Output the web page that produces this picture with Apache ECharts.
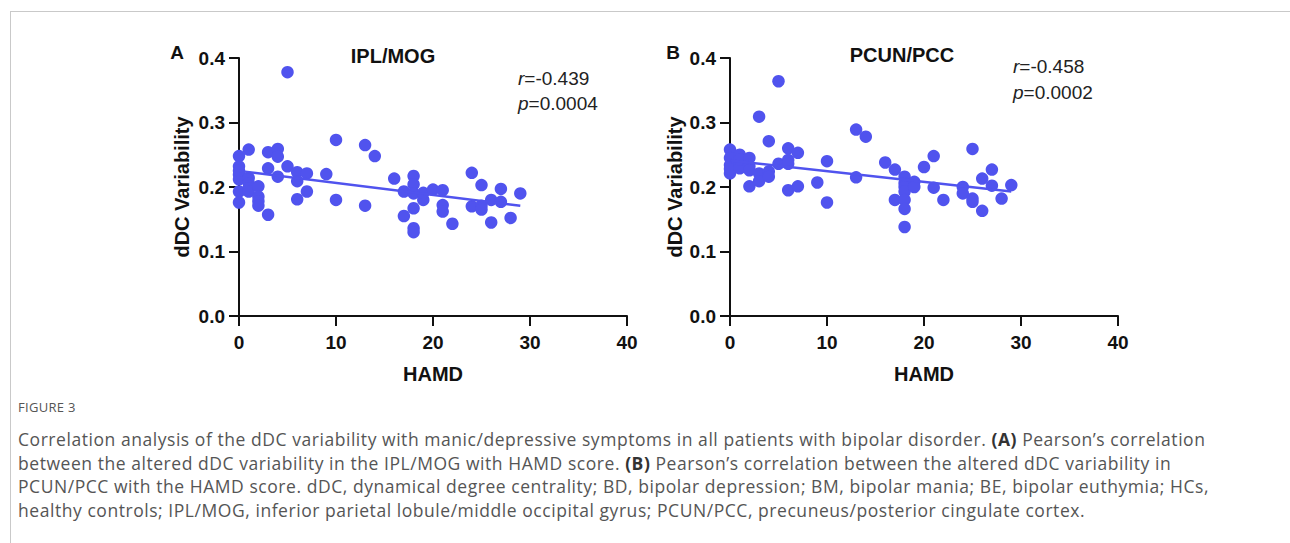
<!DOCTYPE html>
<html>
<head>
<meta charset="utf-8">
<script src="https://cdn.jsdelivr.net/npm/echarts@6/dist/echarts.min.js"></script>
<style>
  html, body { margin: 0; padding: 0; background: #fff; }
  #wrap { position: relative; width: 1290px; height: 543px; overflow: hidden; }
  #frame { position: absolute; left: 10px; top: 11px; width: 1400px; height: 700px; border: 1px solid #c9c9c9; box-sizing: border-box; }
  #chart { position: absolute; left: 0; top: 0; width: 1290px; height: 543px; }
  #figlabel { position: absolute; left: 18px; top: 398px; font-family: "Open Sans", sans-serif; font-size: 13px; color: #555; letter-spacing: 0.3px; }
  #caption { position: absolute; left: 18px; top: 428px; width: 1260px; font-family: "Open Sans", sans-serif; font-size: 17.5px; letter-spacing: 0.55px; line-height: 23.7px; color: #555; white-space: nowrap; }
  #caption b { color: #333; }
</style>
</head>
<body>
<div id="wrap">
  <div id="frame"></div>
  <div id="chart"></div>
  <div id="figlabel">FIGURE 3</div>
  <div id="caption">Correlation analysis of the dDC variability with manic/depressive symptoms in all patients with bipolar disorder. <b>(A)</b> Pearson’s correlation<br>between the altered dDC variability in the IPL/MOG with HAMD score. <b>(B)</b> Pearson’s correlation between the altered dDC variability in<br>PCUN/PCC with the HAMD score. dDC, dynamical degree centrality; BD, bipolar depression; BM, bipolar mania; BE, bipolar euthymia; HCs,<br>healthy controls; IPL/MOG, inferior parietal lobule/middle occipital gyrus; PCUN/PCC, precuneus/posterior cingulate cortex.</div>
</div>
<script>
// ---- Data ----
const panelTitles = ['IPL/MOG', 'PCUN/PCC'];
const panelLetters = ['A', 'B'];
const statsR = ['-0.439', '-0.458'];
const statsP = ['0.0004', '0.0002'];
const xTicks = [0, 10, 20, 30, 40];
const yTicks = [0.0, 0.1, 0.2, 0.3, 0.4];

// Panel A: IPL/MOG
const hamdA = [0,0,0,0,0,0,0, 1,1,1,1,1, 2,2,2,2, 3,3,3, 4,4,4, 5,5, 6,6,6, 7,7, 9, 10,10, 13,13, 14, 16, 17,17, 18,18,18,18,18,18, 19,19, 20, 21,21,21, 22, 24,24, 25,25,25, 26,26, 27,27, 28, 29];
const dDCA  = [0.248,0.232,0.219,0.212,0.193,0.176,0.225, 0.258,0.214,0.206,0.198,0.193, 0.201,0.185,0.178,0.171, 0.254,0.229,0.157, 0.259,0.247,0.216, 0.378,0.232, 0.223,0.209,0.181, 0.221,0.193, 0.220, 0.273,0.180, 0.265,0.171, 0.248, 0.213, 0.193,0.155, 0.217,0.204,0.190,0.167,0.136,0.130, 0.180,0.191, 0.196, 0.195,0.172,0.162, 0.143, 0.222,0.170, 0.203,0.171,0.165, 0.180,0.145, 0.197,0.177, 0.152, 0.190];
const fitA = [[0, 0.225], [29, 0.171]];

// Panel B: PCUN/PCC
const hamdB = [0,0,0,0,0, 1,1,1,1, 2,2,2,2, 3,3,3, 4,4,4, 5,5, 6,6,6,6, 7,7, 9, 10,10, 13,13, 14, 16, 17,17, 18,18,18,18,18,18,18, 19,19, 20, 21,21, 22, 24,24, 25,25,25, 26,26, 27,27, 28, 29];
const dDCB  = [0.258,0.245,0.234,0.221,0.228, 0.250,0.237,0.229,0.243, 0.245,0.232,0.226,0.201, 0.309,0.221,0.209, 0.271,0.224,0.216, 0.364,0.236, 0.260,0.242,0.236,0.195, 0.253,0.201, 0.207, 0.240,0.176, 0.289,0.215, 0.278, 0.238, 0.227,0.180, 0.216,0.206,0.200,0.193,0.180,0.166,0.138, 0.208,0.200, 0.231, 0.248,0.199, 0.180, 0.200,0.190, 0.259,0.182,0.177, 0.213,0.163, 0.227,0.202, 0.182, 0.203];
const fitB = [[0, 0.241], [29, 0.193]];

// ---- Chart ----
const BLUE = '#5053ee';
const INK = '#111';
const FONT = '"Liberation Sans", Arial, sans-serif';

function pairs(xs, ys) { return xs.map((x, i) => [x, ys[i]]); }

const grids = [
  { left: 239, right: 663, top: 58, bottom: 227 },
  { left: 730, right: 172, top: 58, bottom: 227 }
];
const yNameGaps = [47, 45];

function xAxis(i) {
  return {
    type: 'value', gridIndex: i, min: xTicks[0], max: xTicks[xTicks.length - 1], interval: 10,
    name: 'HAMD', nameLocation: 'middle', nameGap: 48,
    nameTextStyle: { fontFamily: FONT, fontWeight: 'bold', fontSize: 20, color: INK },
    axisLine: { onZero: false, lineStyle: { color: INK, width: 2 } },
    axisTick: { show: true, length: 10, lineStyle: { color: INK, width: 2 } },
    axisLabel: { margin: 17, fontFamily: FONT, fontWeight: 'bold', fontSize: 19, color: INK },
    splitLine: { show: false }
  };
}
function yAxis(i) {
  return {
    type: 'value', gridIndex: i, min: yTicks[0], max: yTicks[yTicks.length - 1], interval: 0.1,
    name: 'dDC Variability', nameLocation: 'middle', nameGap: yNameGaps[i],
    nameTextStyle: { fontFamily: FONT, fontWeight: 'bold', fontSize: 20, color: INK },
    axisLine: { show: true, onZero: false, lineStyle: { color: INK, width: 2 } },
    axisTick: { show: true, length: 10, lineStyle: { color: INK, width: 2 } },
    axisLabel: { margin: 14, fontFamily: FONT, fontWeight: 'bold', fontSize: 19, color: INK,
      formatter: v => v.toFixed(1) },
    splitLine: { show: false }
  };
}

function scatter(i, data) {
  return { type: 'scatter', xAxisIndex: i, yAxisIndex: i, data: data, symbolSize: 12.5,
    itemStyle: { color: BLUE, opacity: 1 }, z: 3, silent: true };
}
function fitLine(i, data) {
  return { type: 'line', xAxisIndex: i, yAxisIndex: i, data: data, symbol: 'none',
    lineStyle: { color: BLUE, width: 2.5 }, z: 4, silent: true };
}

function txt(x, y, text, opts) {
  return Object.assign({ type: 'text', x: x, y: y, silent: true,
    style: Object.assign({ text: text, fontFamily: FONT, fill: INK, verticalAlign: 'middle' }, opts) });
}

const graphics = [
  txt(177, 52, panelLetters[0], { fontSize: 19, fontWeight: 'bold', align: 'center' }),
  txt(673, 52, panelLetters[1], { fontSize: 19, fontWeight: 'bold', align: 'center' }),
  txt(393, 56, panelTitles[0], { fontSize: 20, fontWeight: 'bold', align: 'center' }),
  txt(902, 55, panelTitles[1], { fontSize: 20, fontWeight: 'bold', align: 'center' }),
  txt(518, 78, '{i|r}=' + statsR[0], { fontSize: 19, fill: '#222', align: 'left',
    rich: { i: { fontStyle: 'italic', fontSize: 19, fontFamily: FONT, fill: '#222' } } }),
  txt(518, 103, '{i|p}=' + statsP[0], { fontSize: 19, fill: '#222', align: 'left',
    rich: { i: { fontStyle: 'italic', fontSize: 19, fontFamily: FONT, fill: '#222' } } }),
  txt(1013, 66, '{i|r}=' + statsR[1], { fontSize: 19, fill: '#222', align: 'left',
    rich: { i: { fontStyle: 'italic', fontSize: 19, fontFamily: FONT, fill: '#222' } } }),
  txt(1013, 92, '{i|p}=' + statsP[1], { fontSize: 19, fill: '#222', align: 'left',
    rich: { i: { fontStyle: 'italic', fontSize: 19, fontFamily: FONT, fill: '#222' } } })
];

const chart = echarts.init(document.getElementById('chart'), null, { renderer: 'svg', width: 1290, height: 543 });
chart.setOption({
  animation: false,
  backgroundColor: 'transparent',
  grid: grids,
  xAxis: [xAxis(0), xAxis(1)],
  yAxis: [yAxis(0), yAxis(1)],
  series: [
    scatter(0, pairs(hamdA, dDCA)), fitLine(0, fitA),
    scatter(1, pairs(hamdB, dDCB)), fitLine(1, fitB)
  ],
  graphic: graphics
});
</script>
</body>
</html>
